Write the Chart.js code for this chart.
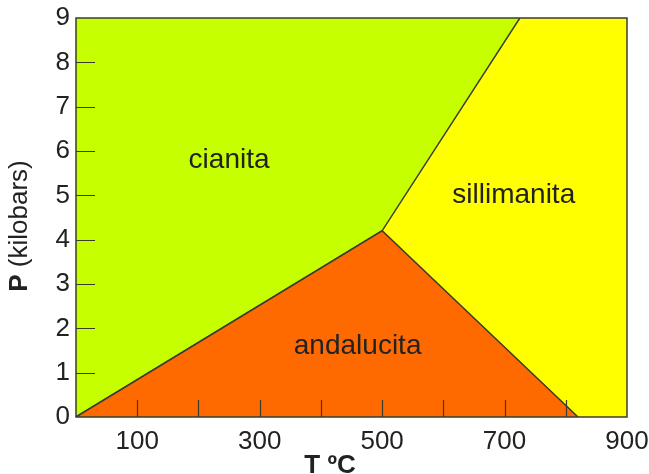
<!DOCTYPE html>
<html>
<head>
<meta charset="utf-8">
<script src="https://cdn.jsdelivr.net/npm/chart.js@4.4.1/dist/chart.umd.min.js"></script>
<style>
  html, body { margin: 0; padding: 0; background: #fff; }
</style>
</head>
<body>
<canvas id="chart" width="649" height="474"></canvas>
<script>
// Diagrama de fases del Al2SiO5 (T ºC vs P kilobars)

const tempTicks = [0, 100, 200, 300, 400, 500, 600, 700, 800, 900];
const presTicks = [0, 1, 2, 3, 4, 5, 6, 7, 8, 9];

// limites entre fases, puntos [T, P]
const limiteCianita = [[0, 0], [500, 4.2], [725, 9]];
const limiteAndalucita = [[0, 0], [500, 4.2], [820, 0]];
const limiteSillimanita = [[0, 9], [900, 9]];

const nombres = ['cianita', 'sillimanita', 'andalucita'];
const nombreT = [250, 715, 460];
const nombreP = [5.8, 5.0, 1.6];

const toXY = arr => arr.map(p => ({ x: p[0], y: p[1] }));

const tickFont = { family: 'Liberation Sans', size: 26 };

const extras = {
    id: 'extras',
    afterDatasetsDraw(chart) {
        const { ctx, chartArea: a, scales } = chart;
        const sx = scales.x, sy = scales.y;
        ctx.save();
        ctx.strokeStyle = '#3b3b30';
        ctx.lineWidth = 1.2;
        ctx.beginPath();
        tempTicks.forEach(t => {
            if (t > 0 && t < 900) {
                const px = Math.round(sx.getPixelForValue(t)) + 0.5;
                ctx.moveTo(px, a.bottom);
                ctx.lineTo(px, a.bottom - 17);
            }
        });
        presTicks.forEach(p => {
            if (p > 0 && p < 9) {
                const py = Math.round(sy.getPixelForValue(p)) + 0.5;
                ctx.moveTo(a.left, py);
                ctx.lineTo(a.left + 19, py);
            }
        });
        ctx.stroke();
        ctx.lineWidth = 1.5;
        ctx.strokeRect(a.left, a.top, a.width, a.height);

        // nombres de las fases
        ctx.fillStyle = '#222';
        ctx.font = '28px "Liberation Sans"';
        ctx.textAlign = 'center';
        ctx.textBaseline = 'middle';
        nombres.forEach((n, i) => {
            ctx.fillText(n, sx.getPixelForValue(nombreT[i]), sy.getPixelForValue(nombreP[i]));
        });

        // titulo eje x
        ctx.font = 'bold 26px "Liberation Sans"';
        ctx.fillText('T ºC', 330, 466);

        // titulo eje y, "P" en negrita
        ctx.translate(20, 226);
        ctx.rotate(-Math.PI / 2);
        ctx.textAlign = 'left';
        ctx.font = 'bold 26px "Liberation Sans"';
        const wP = ctx.measureText('P').width;
        ctx.font = '26px "Liberation Sans"';
        const wR = ctx.measureText(' (kilobars)').width;
        const x0 = -(wP + wR) / 2;
        ctx.font = 'bold 26px "Liberation Sans"';
        ctx.fillText('P', x0, 0);
        ctx.font = '26px "Liberation Sans"';
        ctx.fillText(' (kilobars)', x0 + wP, 0);
        ctx.restore();
    }
};

new Chart(document.getElementById('chart').getContext('2d'), {
    type: 'scatter',
    data: {
        datasets: [
            {
                label: 'sillimanita',
                data: toXY(limiteSillimanita),
                showLine: true,
                fill: 'origin',
                backgroundColor: '#ffff00',
                borderWidth: 0,
                borderColor: 'rgba(0,0,0,0)',
                pointRadius: 0,
                order: 3
            },
            {
                label: 'cianita',
                data: toXY(limiteCianita),
                showLine: true,
                fill: 'end',
                backgroundColor: '#c6ff00',
                borderColor: '#3b3b30',
                borderWidth: 1.5,
                pointRadius: 0,
                order: 2
            },
            {
                label: 'andalucita',
                data: toXY(limiteAndalucita),
                showLine: true,
                fill: 'origin',
                backgroundColor: '#ff6a00',
                borderColor: '#3b3b30',
                borderWidth: 1.5,
                pointRadius: 0,
                order: 1
            }
        ]
    },
    options: {
        responsive: false,
        animation: false,
        devicePixelRatio: 1,
        layout: { padding: { top: 18, right: 22, left: 0, bottom: 0 } },
        plugins: {
            legend: { display: false },
            tooltip: { enabled: false }
        },
        scales: {
            x: {
                type: 'linear',
                min: 0,
                max: 900,
                afterFit: s => {
                    s.height = 57;
                    s.paddingLeft = 0;
                    s.paddingRight = 0;
                },
                grid: { display: false, drawTicks: false },
                border: { display: false },
                ticks: {
                    stepSize: 100,
                    autoSkip: false,
                    maxRotation: 0,
                    padding: 9,
                    color: '#222',
                    font: tickFont,
                    callback: v => (v % 200 === 100 ? String(v) : '')
                }
            },
            y: {
                type: 'linear',
                min: 0,
                max: 9,
                afterFit: s => {
                    s.width = 76;
                    s.paddingTop = 0;
                    s.paddingBottom = 0;
                },
                grid: { display: false, drawTicks: false },
                border: { display: false },
                ticks: {
                    stepSize: 1,
                    autoSkip: false,
                    padding: 6,
                    color: '#222',
                    font: tickFont
                }
            }
        }
    },
    plugins: [extras]
});
</script>
</body>
</html>
